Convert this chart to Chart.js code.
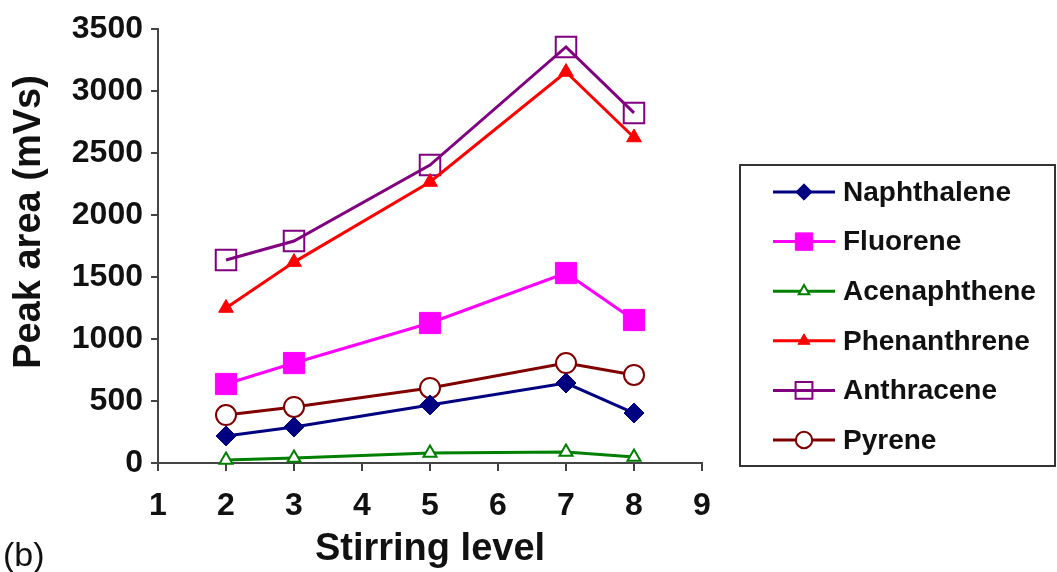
<!DOCTYPE html>
<html>
<head>
<meta charset="utf-8">
<script src="https://cdn.jsdelivr.net/npm/chart.js@4/dist/chart.umd.min.js"></script>
<style>
  html, body { margin: 0; padding: 0; background: #fff; }
</style>
</head>
<body>
<canvas id="peakChart" width="1057" height="572"></canvas>
<script>
const FONT = "'Liberation Sans', Arial, sans-serif";

// peak areas per stirring level
const stirringLevels = [2, 3, 5, 7, 8];
const naphthalene = [218, 290, 468, 645, 403];
const fluorene = [637, 806, 1129, 1532, 1153];
const acenaphthene = [25, 40, 80, 89, 48];
const phenanthrene = [1250, 1620, 2266, 3153, 2625];
const anthracene = [1637, 1790, 2403, 3355, 2823];
const pyrene = [387, 452, 605, 806, 710];

const xMin = 1, xMax = 9, xStep = 1;
const yMin = 0, yMax = 3500, yStep = 500;

const toPoints = (vals) => vals.map((v, i) => ({ x: stirringLevels[i], y: v }));

function series(label, vals, color, style, radius, fill, bw) {
  return {
    label,
    data: toPoints(vals),
    borderColor: color,
    borderWidth: 3,
    pointStyle: style,
    pointRadius: radius,
    pointHoverRadius: radius,
    pointBackgroundColor: fill,
    pointBorderColor: color,
    pointBorderWidth: bw,
    tension: 0,
    clip: false,
  };
}

const datasets = [
  series("Naphthalene", naphthalene, "#000080", "rectRot", 10, "#000080", 1),
  series("Fluorene", fluorene, "#ff00ff", "rect", 15, "#ff00ff", 1),
  series("Acenaphthene", acenaphthene, "#008000", "triangle", 7.5, "#ffffff", 2),
  series("Phenanthrene", phenanthrene, "#ff0000", "triangle", 8.5, "#ff0000", 1),
  series("Anthracene", anthracene, "#800080", "rect", 14.5, "rgba(0,0,0,0)", 2),
  series("Pyrene", pyrene, "#800000", "circle", 10, "#ffffff", 2),
];

// boxed legend, y-axis title and panel tag
const extras = {
  id: "extras",
  afterDraw(chart) {
    const ctx = chart.ctx;
    ctx.save();
    ctx.strokeStyle = "#333";
    ctx.lineWidth = 2;
    ctx.strokeRect(740, 165, 315, 301);

    chart.data.datasets.forEach((ds, i) => {
      const y = 192 + i * 49.6;
      ctx.strokeStyle = ds.borderColor;
      ctx.lineWidth = 3;
      ctx.beginPath();
      ctx.moveTo(773, y);
      ctx.lineTo(835, y);
      ctx.stroke();
      ctx.fillStyle = ds.pointBackgroundColor;
      ctx.strokeStyle = ds.pointBorderColor;
      ctx.lineWidth = ds.pointBorderWidth;
      Chart.helpers.drawPoint(ctx, {
        pointStyle: ds.pointStyle,
        radius: ds.pointRadius * 0.82,
        borderWidth: ds.pointBorderWidth,
        rotation: 0,
      }, 804, y);
      ctx.fillStyle = "#111";
      ctx.font = "bold 28px " + FONT;
      ctx.textAlign = "left";
      ctx.textBaseline = "middle";
      ctx.fillText(ds.label, 843, y + 1);
    });

    ctx.fillStyle = "#111";
    ctx.font = "bold 38px " + FONT;
    ctx.textAlign = "center";
    ctx.textBaseline = "alphabetic";
    ctx.translate(40, 222);
    ctx.rotate(-Math.PI / 2);
    ctx.fillText("Peak area (mVs)", 0, 0);
    ctx.restore();

    ctx.save();
    ctx.fillStyle = "#111";
    ctx.font = "34px " + FONT;
    ctx.textAlign = "left";
    ctx.textBaseline = "alphabetic";
    ctx.fillText("(b)", 3, 566);
    ctx.restore();
  },
};

new Chart(document.getElementById("peakChart"), {
  type: "line",
  data: { datasets },
  plugins: [extras],
  options: {
    responsive: false,
    animation: false,
    devicePixelRatio: 1,
    layout: { padding: { left: 0, top: 29, right: 355, bottom: 0 } },
    plugins: { legend: { display: false }, tooltip: { enabled: false } },
    scales: {
      x: {
        type: "linear",
        min: xMin,
        max: xMax,
        afterFit: (s) => { s.height = 109; },
        ticks: { stepSize: xStep, padding: 16, color: "#111", font: { family: FONT, size: 32, weight: "bold" } },
        grid: { drawOnChartArea: false, drawTicks: true, tickLength: 8, color: "#444", lineWidth: 2 },
        border: { display: true, color: "#444", width: 2 },
        title: { display: true, text: "Stirring level", color: "#111", padding: 0, font: { family: FONT, size: 38, weight: "bold" } },
      },
      y: {
        min: yMin,
        max: yMax,
        afterFit: (s) => { s.width = 158; },
        ticks: { stepSize: yStep, padding: 8, color: "#111", callback: (v) => String(v), font: { family: FONT, size: 32, weight: "bold" } },
        grid: { drawOnChartArea: false, drawTicks: true, tickLength: 7, color: "#444", lineWidth: 2 },
        border: { display: true, color: "#444", width: 2 },
      },
    },
  },
});
</script>
</body>
</html>
